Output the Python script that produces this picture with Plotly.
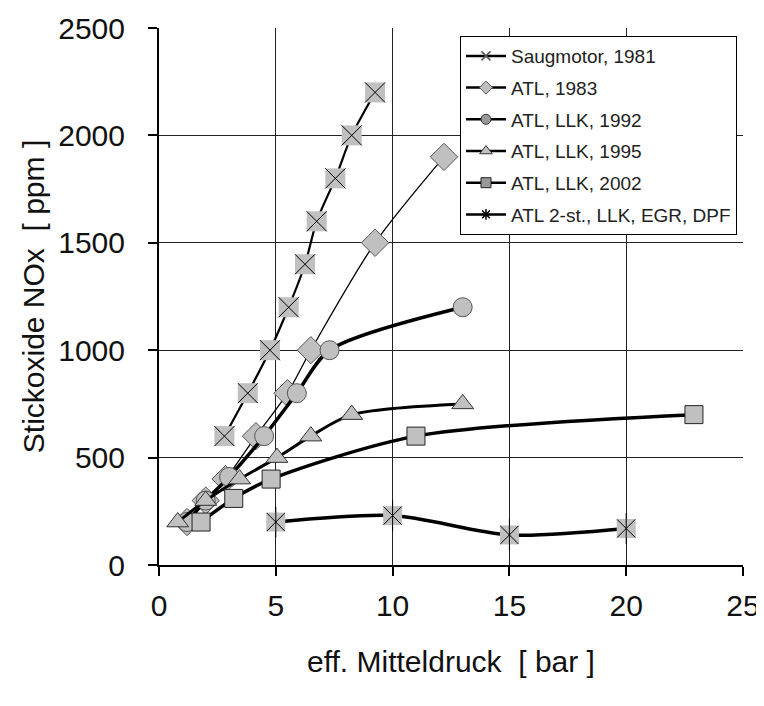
import plotly.graph_objects as go

# ---- data ----
saug_x = [2.8, 3.8, 4.75, 5.55, 6.25, 6.75, 7.55, 8.25, 9.25]
saug_y = [600, 800, 1000, 1200, 1400, 1600, 1800, 2000, 2200]

atl83_x = [1.2, 2.0, 2.85, 4.15, 5.5, 6.5, 9.25, 12.2]
atl83_y = [200, 300, 400, 600, 800, 1000, 1500, 1900]

llk92_x = [1.2, 2.0, 3.0, 4.5, 5.9, 7.3, 13.0]
llk92_y = [200, 300, 410, 600, 800, 1000, 1200]

llk95_x = [0.8, 2.0, 3.45, 5.05, 6.5, 8.25, 13.0]
llk95_y = [200, 300, 400, 500, 600, 700, 750]

llk02_x = [1.8, 3.2, 4.8, 11.0, 22.9]
llk02_y = [200, 310, 400, 600, 700]

st2_x = [5.0, 10.0, 15.0, 20.0]
st2_y = [200, 230, 140, 170]

names = ["Saugmotor, 1981", "ATL, 1983", "ATL, LLK, 1992", "ATL, LLK, 1995",
         "ATL, LLK, 2002", "ATL 2-st., LLK, EGR, DPF"]

x_ticks = [0, 5, 10, 15, 20, 25]
y_ticks = [0, 500, 1000, 1500, 2000, 2500]

GRAY = "#c0c0c0"
FONT = "Liberation Sans, Arial, sans-serif"

fig = go.Figure()

def line_kw(w):
    return dict(color="black", width=w, shape="spline", smoothing=0.8)

# Saugmotor: gray squares with black X
fig.add_trace(go.Scatter(x=saug_x, y=saug_y, mode="lines+markers", showlegend=False,
                         line=line_kw(2.2),
                         marker=dict(symbol="square", size=20, color=GRAY, line=dict(width=0))))
fig.add_trace(go.Scatter(x=saug_x, y=saug_y, mode="markers", showlegend=False,
                         marker=dict(symbol="x-thin", size=20, color="black",
                                     line=dict(width=1, color="black"))))

# ATL 1983: diamonds, thin line
fig.add_trace(go.Scatter(x=atl83_x, y=atl83_y, mode="lines+markers", showlegend=False,
                         line=line_kw(1.3),
                         marker=dict(symbol="diamond", size=21, color=GRAY,
                                     line=dict(width=1, color="#555555"))))

# ATL LLK 1992: circles, thick line
fig.add_trace(go.Scatter(x=llk92_x, y=llk92_y, mode="lines+markers", showlegend=False,
                         line=line_kw(3.5),
                         marker=dict(symbol="circle", size=19, color=GRAY,
                                     line=dict(width=1, color="#555555"))))

# ATL LLK 1995: triangles
fig.add_trace(go.Scatter(x=llk95_x, y=llk95_y, mode="lines+markers", showlegend=False,
                         line=line_kw(3.0),
                         marker=dict(symbol="triangle-up", size=19, color=GRAY,
                                     line=dict(width=1, color="#333333"))))

# ATL LLK 2002: squares
fig.add_trace(go.Scatter(x=llk02_x, y=llk02_y, mode="lines+markers", showlegend=False,
                         line=line_kw(3.5),
                         marker=dict(symbol="square", size=18, color=GRAY,
                                     line=dict(width=1, color="#222222"))))

# ATL 2-st: gray squares with black asterisk
fig.add_trace(go.Scatter(x=st2_x, y=st2_y, mode="lines+markers", showlegend=False,
                         line=line_kw(3.5),
                         marker=dict(symbol="square", size=19, color=GRAY, line=dict(width=0))))
fig.add_trace(go.Scatter(x=st2_x, y=st2_y, mode="markers", showlegend=False,
                         marker=dict(symbol="x-thin", size=18, color="black",
                                     line=dict(width=1, color="black"))))
fig.add_trace(go.Scatter(x=st2_x, y=st2_y, mode="markers", showlegend=False,
                         marker=dict(symbol="line-ns", size=22, color="black",
                                     line=dict(width=1, color="black"))))

# legend-only entries
leg_markers = [
    dict(symbol="x-thin", size=9, color="#555555", line=dict(width=1.5, color="#555555")),
    dict(symbol="diamond", size=10, color=GRAY, line=dict(width=1, color="#555555")),
    dict(symbol="circle", size=10, color="#999999", line=dict(width=1, color="#333333")),
    dict(symbol="triangle-up", size=11, color=GRAY, line=dict(width=1, color="#333333")),
    dict(symbol="square", size=10, color="#999999", line=dict(width=1, color="#222222")),
    dict(symbol="asterisk", size=9, color="black", line=dict(width=1.5, color="black")),
]
for i, (nm, mk) in enumerate(zip(names, leg_markers)):
    fig.add_trace(go.Scatter(x=[None], y=[None], mode="lines+markers", name=nm,
                             legendgroup=f"g{i}",
                             line=dict(color="black", width=2.5), marker=mk))

fig.update_layout(
    width=756, height=690,
    margin=dict(l=151, r=21, t=20, b=133, autoexpand=False),
    paper_bgcolor="white", plot_bgcolor="white",
    font=dict(family=FONT, color="#111111"),
    showlegend=True,
    legend=dict(x=0.5154, y=0.985, xanchor="left", yanchor="top",
                bgcolor="white", bordercolor="black", borderwidth=1,
                font=dict(family=FONT, size=19, color="#222222"),
                tracegroupgap=4, traceorder="grouped",
                itemwidth=40),
    xaxis=dict(range=[0, 25], tickvals=x_ticks, ticktext=[str(v) for v in x_ticks],
               showgrid=True, gridcolor="#222222", gridwidth=1,
               showline=True, linecolor="black", linewidth=2,
               ticks="outside", ticklen=9, tickwidth=2, tickcolor="black",
               tickfont=dict(size=30, family=FONT, color="#111111"),
               ticklabelstandoff=4,
               zeroline=False,
               title=dict(text="eff. Mitteldruck  [ bar ]",
                          font=dict(size=30, family=FONT, color="#111111"), standoff=30)),
    yaxis=dict(range=[0, 2500], tickvals=y_ticks, ticktext=[str(v) for v in y_ticks],
               showgrid=True, gridcolor="#222222", gridwidth=1,
               showline=True, linecolor="black", linewidth=2,
               ticks="outside", ticklen=9, tickwidth=2, tickcolor="black",
               tickfont=dict(size=30, family=FONT, color="#111111"),
               ticklabelstandoff=17,
               zeroline=False,
               title=dict(text="Stickoxide NOx  [ ppm ]",
                          font=dict(size=30, family=FONT, color="#111111"), standoff=5)),
)

fig.write_html("out.html")
